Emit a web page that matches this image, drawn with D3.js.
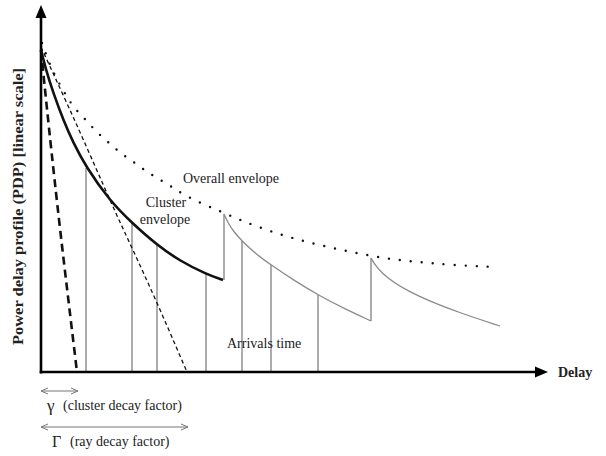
<!DOCTYPE html>
<html>
<head>
<meta charset="utf-8">
<script src="https://cdn.jsdelivr.net/npm/d3@7"></script>
<style>
  html, body { margin: 0; padding: 0; background: #fff; }
  svg { display: block; }
  text { font-family: "Liberation Serif", "DejaVu Serif", serif; fill: #222; }
</style>
</head>
<body>
<svg id="chart" width="606" height="456"></svg>
<script>
// ---- data: [delay, power] (arbitrary linear units) ----
const overallEnvelope = [
  [1,329],[7,312],[14,296],[22,282],[29,270],[36,261],[44,253],[51,245],[59,237],
  [67,230],[76,222],[85,215],[94,209],[102,203],[111,197],[121,191],[131,185],
  [140,179],[159,169],[181,160],[199,152],[220,144],[241,137],[262,131],[283,126],
  [305,121],[326,117],[348,113],[377,110],[410,107],[454,105]
];
const clusterEnvelope = [
  [0,322],[5,302],[12,280],[23,250],[32,230],[45,205],[69,171],[91,149],
  [116,127],[139,111],[165,98],[182,92]
];
const secondCluster = [
  [183,158],[187,149],[193,140],[201,131],[215,118],[230,107],[254,91],[277,77],[304,63],[330,51]
];
const thirdCluster = [
  [330,114],[334,107],[341,99],[352,90],[369,80],[386,72],[419,59],[459,46]
];
const clusterDecay = [[0,322],[8,244],[20,135],[36,0]];
const rayDecay = [[0,325],[38,242],[69,172],[91,124],[116,69],[146,0]];
const arrivals = [[45,204],[91,149],[116,128],[165,99],[201,131],[230,107],[277,77]];
const clusterJumps = [[183,92,158],[330,51,114]];
const gammaSpan = [0,36];
const bigGammaSpan = [0,146];

const labels = {
  yAxis: "Power delay profile (PDP) [linear scale]",
  xAxis: "Delay",
  overall: "Overall envelope",
  cluster1: "Cluster",
  cluster2: "envelope",
  arrivals: "Arrivals time",
  gamma: "γ",
  gammaText: "(cluster decay factor)",
  bigGamma: "Γ",
  bigGammaText: "(ray decay factor)"
};

// ---- scales ----
const x = d3.scaleLinear().domain([0, 507]).range([41, 548]);
const y = d3.scaleLinear().domain([0, 367]).range([372, 5]);

const svg = d3.select("#chart");
const smooth = d3.line().x(d => x(d[0])).y(d => y(d[1])).curve(d3.curveBasis);
const natural = d3.line().x(d => x(d[0])).y(d => y(d[1])).curve(d3.curveNatural);

const gray = "#8a8a8a";

// arrival lines
svg.append("g").selectAll("line").data(arrivals).join("line")
  .attr("x1", d => x(d[0])).attr("x2", d => x(d[0]))
  .attr("y1", y(0)).attr("y2", d => y(d[1]))
  .attr("stroke", gray).attr("stroke-width", 1.4);

// cluster jumps
svg.append("g").selectAll("line").data(clusterJumps).join("line")
  .attr("x1", d => x(d[0])).attr("x2", d => x(d[0]))
  .attr("y1", d => y(d[1])).attr("y2", d => y(d[2]))
  .attr("stroke", gray).attr("stroke-width", 1.4);

// subsequent clusters
[secondCluster, thirdCluster].forEach(c => {
  svg.append("path").datum(c).attr("d", smooth)
    .attr("fill", "none").attr("stroke", gray).attr("stroke-width", 1.3);
});

// ray decay (thin dashed)
svg.append("path").datum(rayDecay).attr("d", natural)
  .attr("fill", "none").attr("stroke", "#111").attr("stroke-width", 1.3)
  .attr("stroke-dasharray", "4,3");

// cluster decay (heavy dashed)
svg.append("path").datum(clusterDecay).attr("d", natural)
  .attr("fill", "none").attr("stroke", "#111").attr("stroke-width", 2.6)
  .attr("stroke-dasharray", "8,5");

// first cluster envelope (bold)
svg.append("path").datum(clusterEnvelope).attr("d", smooth)
  .attr("fill", "none").attr("stroke", "#111").attr("stroke-width", 2.6);

// overall envelope (dotted)
svg.append("path").datum(overallEnvelope).attr("d", smooth)
  .attr("fill", "none").attr("stroke", "#111").attr("stroke-width", 2.4)
  .attr("stroke-linecap", "round").attr("stroke-dasharray", "0,11");

// axes
svg.append("line").attr("x1", x(0)).attr("x2", x(0)).attr("y1", y(0) + 1.5).attr("y2", y(367) + 10)
  .attr("stroke", "#000").attr("stroke-width", 2.6);
svg.append("line").attr("x1", x(0) - 1.3).attr("x2", x(507) - 10).attr("y1", y(0)).attr("y2", y(0))
  .attr("stroke", "#000").attr("stroke-width", 2.6);
// arrow heads
svg.append("path")
  .attr("d", `M${x(0)},${y(367)} L${x(0) - 5.5},${y(367) + 13} L${x(0) + 5.5},${y(367) + 13} Z`)
  .attr("fill", "#000");
svg.append("path")
  .attr("d", `M${x(507)},${y(0)} L${x(507) - 13},${y(0) - 5.5} L${x(507) - 13},${y(0) + 5.5} Z`)
  .attr("fill", "#000");

// axis labels
svg.append("text").attr("transform", `translate(23,${(68 + 345) / 2}) rotate(-90)`)
  .attr("text-anchor", "middle").attr("font-weight", "bold").attr("font-size", 14)
  .attr("textLength", 277).attr("lengthAdjust", "spacingAndGlyphs")
  .text(labels.yAxis);
svg.append("text").attr("x", 558).attr("y", 377)
  .attr("font-weight", "bold").attr("font-size", 14).text(labels.xAxis);

// annotations
svg.append("text").attr("x", 183).attr("y", 183).attr("font-size", 14).text(labels.overall);
svg.append("text").attr("x", 166).attr("y", 207).attr("text-anchor", "middle").attr("font-size", 14).text(labels.cluster1);
svg.append("text").attr("x", 165).attr("y", 224).attr("text-anchor", "middle").attr("font-size", 14).text(labels.cluster2);
svg.append("text").attr("x", 227).attr("y", 348).attr("font-size", 14).text(labels.arrivals);

// decay factor spans
function span(x0, x1, yy) {
  const g = svg.append("g").attr("stroke", "#777").attr("stroke-width", 1).attr("fill", "none");
  g.append("line").attr("x1", x0).attr("x2", x1).attr("y1", yy).attr("y2", yy);
  g.append("path").attr("d", `M${x0 + 7},${yy - 3} L${x0},${yy} L${x0 + 7},${yy + 3}`);
  g.append("path").attr("d", `M${x1 - 7},${yy - 3} L${x1},${yy} L${x1 - 7},${yy + 3}`);
}
span(x(gammaSpan[0]), x(gammaSpan[1]) + 1, 391);
span(x(bigGammaSpan[0]), x(bigGammaSpan[1]) + 1, 427);

svg.append("text").attr("x", 47).attr("y", 411).attr("font-size", 17).text(labels.gamma);
svg.append("text").attr("x", 63).attr("y", 410).attr("font-size", 14).text(labels.gammaText);
svg.append("text").attr("x", 52).attr("y", 447).attr("font-size", 16).text(labels.bigGamma);
svg.append("text").attr("x", 70).attr("y", 446).attr("font-size", 14).text(labels.bigGammaText);
</script>
</body>
</html>
